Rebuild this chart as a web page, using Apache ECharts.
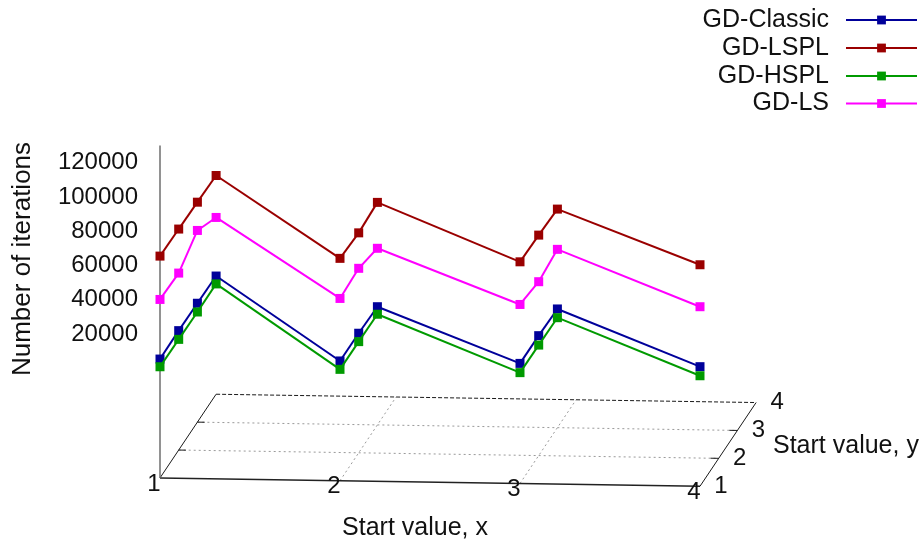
<!DOCTYPE html>
<html>
<head>
<meta charset="utf-8">
<script src="https://cdn.jsdelivr.net/npm/echarts@6/dist/echarts.min.js"></script>
<style>
  html, body { margin: 0; padding: 0; background: #fff; }
  #chart { width: 921px; height: 542px; }
</style>
</head>
<body>
<div id="chart"></div>
<script>
// ---- Data ----
const seriesNames = ['GD-Classic', 'GD-LSPL', 'GD-HSPL', 'GD-LS'];
const startX = [1, 1, 1, 1, 2, 2, 2, 3, 3, 3, 4];
const startY = [1, 2, 3, 4, 1, 2, 3, 1, 2, 3, 1];
const gdClassic = [5400, 5700, 5400, 5000, 5900, 5800, 5000, 6100, 6000, 5300, 5800];
const gdLSPL    = [65500, 65000, 64400, 63700, 65800, 64400, 65900, 65400, 64700, 63600, 65300];
const gdHSPL    = [900, 600, 300, 400, 1000, 900, 600, 700, 500, 200, 500];
const gdLS      = [40200, 39300, 47900, 39200, 42400, 43700, 39100, 40500, 37500, 40100, 40800];
const xTickLabels = [1, 2, 3, 4];
const yTickLabels = [1, 2, 3, 4];
const zTickLabels = [20000, 40000, 60000, 80000, 100000, 120000];

// ---- Styling / projection ----
const colors = ['#00009a', '#9a0000', '#009a00', '#ff00ff'];
const FONT = '"Liberation Sans", Arial, sans-serif';
const DEPTH_DX = 18.7;   // px per unit of y (to the right)
const DEPTH_DY = 27.9;   // px per unit of y (upwards)
const X_SLOPE = 2.77;    // px per unit of x (downwards)
const Z_FLOOR = -64000;  // base plane level
const Z_TOP = 130000;    // top of vertical z axis line

function proj(api, x, y, z) {
  const c = api.coord([x, z]);
  return [c[0] + (y - 1) * DEPTH_DX, c[1] + (x - 1) * X_SLOPE - (y - 1) * DEPTH_DY];
}

function dataSeries(name, values, color, zIndex) {
  return {
    type: 'custom',
    name: name,
    coordinateSystem: 'cartesian2d',
    z: zIndex,
    clip: false,
    data: values.map((v, i) => [startX[i], v, startY[i]]),
    encode: { x: 0, y: 1 },
    renderItem: function (params, api) {
      const i = params.dataIndex;
      const p = proj(api, startX[i], startY[i], values[i]);
      const children = [];
      if (i > 0) {
        const q = proj(api, startX[i - 1], startY[i - 1], values[i - 1]);
        children.push({
          type: 'line', z2: 1,
          shape: { x1: q[0], y1: q[1], x2: p[0], y2: p[1] },
          style: { stroke: color, lineWidth: 2 }
        });
      }
      children.push({
        type: 'rect', z2: 10,
        shape: { x: p[0] - 4.5, y: p[1] - 4.5, width: 9, height: 9 },
        style: { fill: color }
      });
      return { type: 'group', children: children };
    }
  };
}

function frameSeries() {
  return {
    type: 'custom',
    name: '__frame',
    coordinateSystem: 'cartesian2d',
    z: 1,
    clip: false,
    silent: true,
    data: [[1, 0]],
    renderItem: function (params, api) {
      const F = (x, y, z) => proj(api, x, y, z === undefined ? Z_FLOOR : z);
      const seg = (a, b, style) => ({
        type: 'line',
        shape: { x1: a[0], y1: a[1], x2: b[0], y2: b[1] },
        style: style
      });
      const ch = [];
      const dark = '#1a1a1a';
      // grid lines (dotted)
      [2, 3].forEach(v => {
        ch.push(seg(F(1, v), F(4, v), { stroke: '#9a9a9a', lineWidth: 1, lineDash: [2, 3] }));
        ch.push(seg(F(v, 1), F(v, 4), { stroke: '#9a9a9a', lineWidth: 1, lineDash: [2, 3] }));
      });
      // base box
      ch.push(seg(F(1, 1), F(4, 1), { stroke: '#222', lineWidth: 1.6 }));
      ch.push(seg(F(4, 1), F(4, 4), { stroke: dark, lineWidth: 1 }));
      ch.push(seg(F(1, 1), F(1, 4), { stroke: dark, lineWidth: 1 }));
      ch.push(seg(F(1, 4), F(4, 4), { stroke: dark, lineWidth: 1, lineDash: [4, 2] }));
      // y ticks on left and right edges
      [2, 3].forEach(v => {
        ch.push(seg(F(1, v), F(1.04, v), { stroke: dark, lineWidth: 1 }));
        ch.push(seg(F(4, v), F(3.955, v), { stroke: dark, lineWidth: 1 }));
      });
      // vertical z axis
      ch.push(seg(F(1, 1), F(1, 1, Z_TOP), { stroke: '#6e6e6e', lineWidth: 1.5 }));
      // x tick labels
      xTickLabels.forEach(v => {
        const p = F(v, 1);
        ch.push({ type: 'text', x: p[0] - 6, y: p[1] + 6,
          style: { text: String(v), fill: '#111', font: '24px ' + FONT,
                   align: 'center', verticalAlign: 'middle', textAlign: 'center', textVerticalAlign: 'middle' } });
      });
      // y tick labels
      yTickLabels.forEach(v => {
        const p = F(4, v);
        ch.push({ type: 'text', x: p[0] + 21, y: p[1],
          style: { text: String(v), fill: '#111', font: '24px ' + FONT,
                   align: 'center', verticalAlign: 'middle', textAlign: 'center', textVerticalAlign: 'middle' } });
      });
      return { type: 'group', children: ch };
    }
  };
}

const valueSets = [gdClassic, gdLSPL, gdHSPL, gdLS];
const legendCenters = [20, 48, 76, 103.5];

const series = [];
// legend carriers (no data) so legend shows line + square marker
seriesNames.forEach((n, i) => series.push({
  type: 'line', name: n, data: [], symbol: 'rect', symbolSize: 9,
  itemStyle: { color: colors[i] }, lineStyle: { color: colors[i], width: 2 }
}));
series.push(frameSeries());
seriesNames.forEach((n, i) => series.push(dataSeries(n, valueSets[i], colors[i], 2 + i)));

const chart = echarts.init(document.getElementById('chart'), null, { renderer: 'canvas' });
chart.setOption({
  animation: false,
  backgroundColor: '#ffffff',
  grid: { left: 160, right: 221, top: 128.48, bottom: 70.92, containLabel: false },
  xAxis: { type: 'value', min: 1, max: 4, show: false },
  yAxis: {
    type: 'value', min: -60000, max: 140000, interval: 20000,
    axisLine: { show: false }, axisTick: { show: false }, splitLine: { show: false },
    axisLabel: {
      margin: 22, fontSize: 24, fontFamily: FONT, color: '#111',
      formatter: v => (zTickLabels.indexOf(v) >= 0 ? String(v) : '')
    }
  },
  legend: seriesNames.map((n, i) => ({
    data: [n], orient: 'horizontal', right: 3, top: legendCenters[i] - 12.5,
    align: 'right', itemWidth: 71, itemHeight: 11, padding: 0, itemGap: 0,
    selectedMode: false,
    textStyle: { fontSize: 25, fontFamily: FONT, color: '#111', padding: [0, 12, 0, 0] }
  })),
  graphic: [
    { type: 'text', x: 23, y: 259, rotation: Math.PI / 2,
      style: { text: 'Number of iterations', font: '26px ' + FONT, fill: '#111',
               align: 'center', verticalAlign: 'middle', textAlign: 'center', textVerticalAlign: 'middle' } },
    { type: 'text', x: 415, y: 528,
      style: { text: 'Start value, x', font: '25px ' + FONT, fill: '#111',
               align: 'center', verticalAlign: 'middle', textAlign: 'center', textVerticalAlign: 'middle' } },
    { type: 'text', x: 773, y: 446,
      style: { text: 'Start value, y', font: '25px ' + FONT, fill: '#111',
               align: 'left', verticalAlign: 'middle', textAlign: 'left', textVerticalAlign: 'middle' } }
  ],
  series: series
});
</script>
</body>
</html>
